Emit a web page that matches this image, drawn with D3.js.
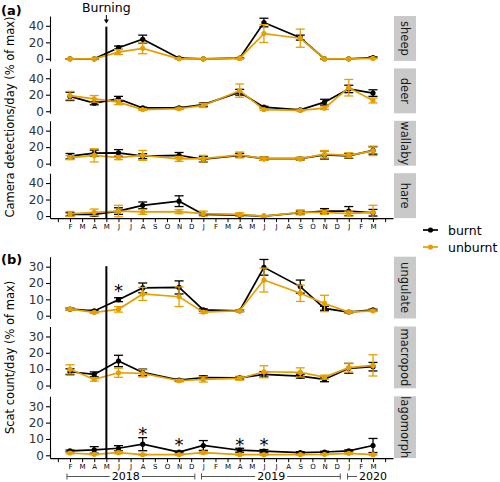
<!DOCTYPE html>
<html><head><meta charset="utf-8">
<script src="https://cdn.jsdelivr.net/npm/d3@7"></script>
<style>body{margin:0;background:#fff}svg{display:block}text{font-family:"DejaVu Sans",sans-serif}</style>
</head><body><svg id="c" width="500" height="482"></svg>
<script>
// ---------- data ----------
const sampleMonths = [1,3,5,7,10,12,15,17,20,22,24,26]; // month index from Jan 2018
const monthLabels = ["","F","M","A","M","J","J","A","S","O","N","D","J","F","M","A","M","J","J","A","S","O","N","D","J","F","M",""];
const groups = ["burnt","unburnt"];
const colors = ["#000000","#E69F00"];

const cameraFacets = ["sheep","deer","wallaby","hare"];
const sheepBurnt = [0,0,13.5,23.7,0.8,0,0.8,44,25.7,0,0,1.6];
const sheepBurntSe = [0.3,0.3,2,5,0.5,0.3,0.5,5.2,3,0.3,0.3,0.8];
const sheepUnburnt = [0,0,8.2,12.7,0,0,0.5,30.6,25,0,0,0.5];
const sheepUnburntSe = [0,0,3,6.5,0,0,0.3,10.8,11,0,0,0.3];
const deerBurnt = [18,9.8,15,4,4,8,23,5,1.6,11,27,22];
const deerBurntSe = [5,2,3,1,1,2,3.5,1,0.7,3.5,4.5,4];
const deerUnburnt = [19,15,11,2,3,7,25,2,1,3.7,28.5,13];
const deerUnburntSe = [5,4,3,1,1,2.5,8,1,0.5,1.5,10,3];
const wallabyBurnt = [9,12.7,13,9,10,5.3,10,6,6,10.6,9.4,16];
const wallabyBurntSe = [3.3,3.7,4,3,3.5,3.3,2.5,2,1.5,5,3,4.5];
const wallabyUnburnt = [7.3,10,7.3,10,5.7,6,10.6,6,6,11.4,10,15.5];
const wallabyUnburntSe = [2.5,8,2.5,6,3,4,3.5,2,1.5,4.5,3,5.7];
const hareBurnt = [2,2,6,13,18,2,1,0,4,6,6,4];
const hareBurntSe = [2,2,4,4,6.5,1,0.8,0.5,2,3,5.5,4];
const hareUnburnt = [2.5,4.5,6,5,5.3,3,2,0,4.5,4.5,3,4.5];
const hareUnburntSe = [3,4,7,3,2.5,3,2,0.5,3,2.5,3,8.5];

const scatFacets = ["ungulate","macropod","lagomorph"];
const ungulateBurnt = [4,2.9,9.8,17,17.3,3.5,3,29.6,17.8,4.5,2.2,3.5];
const ungulateBurntSe = [0.7,0.5,1.2,3,4,0.7,0.5,4.8,4,1.2,0.5,0.5];
const ungulateUnburnt = [4,2,3.9,13.3,11.6,2.2,3,21.8,13.7,7.5,2.2,3];
const ungulateUnburntSe = [0.7,0.5,1.7,4,6,0.7,0.5,7.3,5,5,0.5,0.5];
const macropodBurnt = [8.4,6.8,15,8,3.3,4.9,4.7,6.8,5.7,3.7,10.5,11.5];
const macropodBurntSe = [1.8,1.5,3.5,2,0.6,1,0.8,1.6,1.2,1.4,3,2.6];
const macropodUnburnt = [9.9,3.7,7.8,7.4,2.9,3.7,4.3,8.4,8,5.1,10.9,12.3];
const macropodUnburntSe = [2.8,1,2.8,2.2,0.7,1.6,1,3.7,2.8,1.2,2.7,6.5];
const lagomorphBurnt = [2.7,3.3,4.3,6.8,2,6,3.1,2.5,1.6,2,2.7,6];
const lagomorphBurntSe = [0.5,2,1.6,4,0.5,3,1.2,1,0.6,0.5,0.6,4.3];
const lagomorphUnburnt = [1.4,0.6,1.6,0.4,0.4,1.6,0.4,0.4,0.4,0.6,1.2,0.4];
const lagomorphUnburntSe = [0.5,0.3,0.7,0.3,0.3,0.7,0.3,0.3,0.3,0.3,0.5,0.3];

const cameraTicks = [0,20,40];
const scatTicks = [0,10,20,30];

const starFacet = ["ungulate","lagomorph","lagomorph","lagomorph","lagomorph"];
const starMonth = [5,7,10,15,17];
const starValue = [17.8,15.5,8.8,8.8,8.8];

const burnMonth = 4;
const years = ["2018","2019","2020"];
const yearStart = [0.75,11.85,23.9];
const yearEnd = [11.3,23.3,26];
const yearCenter = [5.6,17.6,26];
const yearEndTick = [true,true,false];

const series = {
  sheep:[sheepBurnt,sheepBurntSe,sheepUnburnt,sheepUnburntSe],
  deer:[deerBurnt,deerBurntSe,deerUnburnt,deerUnburntSe],
  wallaby:[wallabyBurnt,wallabyBurntSe,wallabyUnburnt,wallabyUnburntSe],
  hare:[hareBurnt,hareBurntSe,hareUnburnt,hareUnburntSe],
  ungulate:[ungulateBurnt,ungulateBurntSe,ungulateUnburnt,ungulateUnburntSe],
  macropod:[macropodBurnt,macropodBurntSe,macropodUnburnt,macropodUnburntSe],
  lagomorph:[lagomorphBurnt,lagomorphBurntSe,lagomorphUnburnt,lagomorphUnburntSe]
};

// ---------- layout ----------
const svg = d3.select("#c");
const x = d3.scaleLinear().domain([-0.65, 27.65]).range([50, 393]);
const stripX = 394, stripW = 22;

const panelA = {top:16, period:52.4, h:44.9, domain:[-2.5,51.9], ticks:cameraTicks, facets:cameraFacets};
const panelB = {top:256.7, period:69.8, h:61.8, domain:[-1.72,36.1], ticks:scatTicks, facets:scatFacets};

const yScales = {};

function drawPanel(P){
  P.facets.forEach((f,i)=>{
    const top = P.top + i*P.period;
    const y = d3.scaleLinear().domain(P.domain).range([top+P.h, top]);
    yScales[f] = y;
    const g = svg.append("g");
    const ya = g.append("g").attr("transform",`translate(${x.range()[0]},0)`)
      .call(d3.axisLeft(y).tickValues(P.ticks).tickSize(4).tickSizeOuter(0).tickPadding(2));
    ya.select(".domain").attr("stroke","#000").attr("stroke-width",1.1);
    ya.selectAll(".tick line").attr("stroke","#000").attr("stroke-width",1.1);
    ya.selectAll(".tick text").attr("font-size",12).attr("fill","#333").attr("font-family","DejaVu Sans");
    g.append("rect").attr("x",stripX).attr("y",top).attr("width",stripW).attr("height",P.h).attr("fill","#c9c9c9");
    g.append("text").attr("transform",`translate(${stripX+stripW/2},${top+P.h/2}) rotate(90)`)
      .attr("text-anchor","middle").attr("dominant-baseline","central").attr("font-size",11.5).attr("fill","#1a1a1a").text(f);
    const s = series[f];
    [0,1].forEach(k=>{
      const vals = s[k*2], se = s[k*2+1], col = colors[k];
      const pts = sampleMonths.map((m,j)=>({m, v:vals[j], e:se[j]}));
      const sg = g.append("g");
      sg.append("path").datum(pts).attr("fill","none").attr("stroke",col).attr("stroke-width",1.7)
        .attr("d", d3.line().x(d=>x(d.m)).y(d=>y(d.v)));
      pts.forEach(d=>{
        sg.append("line").attr("x1",x(d.m)).attr("x2",x(d.m)).attr("y1",y(d.v-d.e)).attr("y2",y(d.v+d.e)).attr("stroke",col).attr("stroke-width",1.3);
        [d.v-d.e,d.v+d.e].forEach(vv=>sg.append("line").attr("x1",x(d.m)-4.5).attr("x2",x(d.m)+4.5).attr("y1",y(vv)).attr("y2",y(vv)).attr("stroke",col).attr("stroke-width",1.3));
      });
      sg.selectAll("circle").data(pts).join("circle").attr("cx",d=>x(d.m)).attr("cy",d=>y(d.v)).attr("r",2.6).attr("fill",col);
    });
  });
  const bottom = P.top + (P.facets.length-1)*P.period + P.h;
  const xa = svg.append("g").attr("transform",`translate(0,${bottom})`)
    .call(d3.axisBottom(x).tickValues(d3.range(0,28)).tickFormat(i=>monthLabels[i]).tickSize(4).tickSizeOuter(0).tickPadding(2));
  xa.select(".domain").attr("stroke","#000").attr("stroke-width",1.1);
  xa.selectAll(".tick line").attr("stroke","#000").attr("stroke-width",1);
  xa.selectAll(".tick text").attr("font-size",7).attr("fill","#000").attr("font-family","DejaVu Sans");
  return bottom;
}
const bottomA = drawPanel(panelA);
const bottomB = drawPanel(panelB);

// burning line
const bx = x(burnMonth);
svg.append("line").attr("x1",bx).attr("x2",bx).attr("y1",yScales.sheep(39)).attr("y2",bottomA).attr("stroke","#000").attr("stroke-width",2);
svg.append("line").attr("x1",bx).attr("x2",bx).attr("y1",yScales.ungulate(30.3)).attr("y2",bottomB).attr("stroke","#000").attr("stroke-width",2);
svg.append("text").attr("x",bx).attr("y",11.5).attr("text-anchor","middle").attr("font-size",12.5).attr("fill","#000").text("Burning");
svg.append("line").attr("x1",bx).attr("x2",bx).attr("y1",15).attr("y2",21).attr("stroke","#000").attr("stroke-width",1);
svg.append("path").attr("d",`M${bx-2.5},19.5 L${bx+2.5},19.5 L${bx},23.5 Z`).attr("fill","#000");

// asterisks
starMonth.forEach((m,i)=>{
  const cy = yScales[starFacet[i]](starValue[i]);
  svg.append("text").attr("x",x(m)).attr("y",cy+10.5).attr("text-anchor","middle").attr("font-size",18).attr("fill","#000").text("*");
});

// panel labels
svg.append("text").attr("x",1).attr("y",15).attr("font-size",13).attr("font-weight","bold").text("(a)");
svg.append("text").attr("x",1).attr("y",263.5).attr("font-size",13).attr("font-weight","bold").text("(b)");

// y titles
svg.append("text").attr("transform",`translate(10,${(panelA.top+bottomA)/2}) rotate(-90)`).attr("text-anchor","middle")
  .attr("dominant-baseline","central").attr("font-size",11.5).attr("fill","#000").text("Camera detections/day (% of max)");
svg.append("text").attr("transform",`translate(10,${(panelB.top+bottomB)/2}) rotate(-90)`).attr("text-anchor","middle")
  .attr("dominant-baseline","central").attr("font-size",11.5).attr("fill","#000").text("Scat count/day (% of max)");

// legend
groups.forEach((gname,i)=>{
  const ly = 230 + i*17;
  svg.append("line").attr("x1",423).attr("x2",438).attr("y1",ly).attr("y2",ly).attr("stroke",colors[i]).attr("stroke-width",1.7);
  svg.append("circle").attr("cx",430.5).attr("cy",ly).attr("r",2.6).attr("fill",colors[i]);
  svg.append("text").attr("x",448).attr("y",ly).attr("dominant-baseline","central").attr("font-size",12.5).attr("fill","#000").text(gname);
});

// year brackets
const yy = 476.5;
years.forEach((yr,i)=>{
  const x0 = x(yearStart[i]), x1 = x(yearEnd[i]);
  svg.append("line").attr("x1",x0).attr("x2",x1).attr("y1",yy).attr("y2",yy).attr("stroke","#555").attr("stroke-width",1);
  svg.append("line").attr("x1",x0).attr("x2",x0).attr("y1",yy-3).attr("y2",yy+3).attr("stroke","#555").attr("stroke-width",1);
  if(yearEndTick[i]) svg.append("line").attr("x1",x1).attr("x2",x1).attr("y1",yy-3).attr("y2",yy+3).attr("stroke","#555").attr("stroke-width",1);
  const t = svg.append("text").attr("x",x(yearCenter[i])).attr("y",yy).attr("text-anchor","middle").attr("dominant-baseline","central")
    .attr("font-size",11).attr("fill","#000").text(yr);
  const bb = t.node().getBBox();
  svg.insert("rect", () => t.node()).attr("x",bb.x-2).attr("y",yy-3.5).attr("width",bb.width+4).attr("height",7).attr("fill","#fff");
});
</script></body></html>
